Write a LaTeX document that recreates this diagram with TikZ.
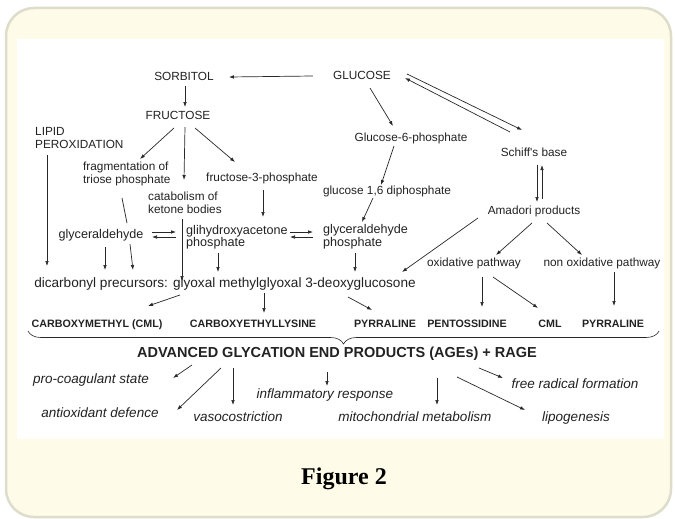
\documentclass[tikz,border=0pt]{standalone}
\usepackage{fontspec}
\setmainfont{Liberation Sans}
\newfontfamily\capfont{Liberation Serif}
\usepackage{tikz}
\usetikzlibrary{arrows.meta, calc, decorations.pathreplacing}

\definecolor{cream}{RGB}{254,251,232}
\definecolor{rim}{RGB}{222,220,203}
\definecolor{ink}{RGB}{34,34,34}
\definecolor{wire}{RGB}{40,40,40}

\tikzset{
  lbl/.style={inner sep=0pt, text=ink, font=\fontsize{11.8}{13}\selectfont, text height=8.9pt, text depth=2.4pt},
  lblm/.style={inner sep=0pt, text=ink, align=left, font=\fontsize{11.8}{13}\selectfont},
  lblb/.style={inner sep=0pt, text=ink, font=\fontsize{12.6}{12.5}\selectfont, text height=9.5pt, text depth=2.5pt},
  lblbm/.style={inner sep=0pt, text=ink, align=left, font=\fontsize{12.6}{12.5}\selectfont},
  prod/.style={inner sep=0pt, text=ink, font=\bfseries\fontsize{10.7}{12}\selectfont, text height=8pt, text depth=2.2pt},
  effect/.style={inner sep=0pt, text=ink, font=\itshape\fontsize{13.5}{15}\selectfont, text height=10.1pt, text depth=2.7pt},
  arr/.style={draw=wire, line width=0.7pt, -{Latex[length=5pt,width=3.6pt]}},
  ln/.style={draw=wire, line width=0.7pt},
}

\begin{document}
\begin{tikzpicture}[x=1pt,y=1pt,yscale=-1,xscale=1]
\useasboundingbox (0,0) rectangle (675,519);

%Shape: Frame
\draw[rim, fill=cream, line width=2.5pt, rounded corners=28pt] (6,8) rectangle (671,517);
\fill[white] (17,39) rectangle (664,439);

% Text Node
\draw (184,77) node[lbl] (sorb) {SORBITOL};
\draw (362,76) node[lbl] (glu) {GLUCOSE};
\draw (178,116) node[lbl] (fru) {FRUCTOSE};
\draw (35,137.5) node[lblm, anchor=west] (lipid) {LIPID\\PEROXIDATION};
\draw (83,173.5) node[lblm, anchor=west] (frag) {fragmentation of\\triose phosphate};
\draw (262,178) node[lbl] (f3p) {fructose-3-phosphate};
\draw (148,202.5) node[lblm, anchor=west] (cat) {catabolism of\\ketone bodies};
\draw (411,138) node[lbl] (g6p) {Glucose-6-phosphate};
\draw (387,191) node[lbl] (g16) {glucose 1,6 diphosphate};
\draw (534,153) node[lbl] (schiff) {Schiff\textquotesingle s base};
\draw (534,211) node[lbl] (amadori) {Amadori products};
\draw (101,235) node[lblb] (gly) {glyceraldehyde};
\draw (186,237) node[lblbm, anchor=west] (dhap) {glihydroxyacetone\\phosphate};
\draw (323,236.5) node[lblbm, anchor=west] (gap) {glyceraldehyde\\phosphate};
\draw (225,284) node[lbl, font=\fontsize{13.6}{15}\selectfont, text height=10.2pt, text depth=2.7pt] (dicarb) {dicarbonyl precursors: glyoxal methylglyoxal 3-deoxyglucosone};
\draw (474,263) node[lbl] (oxp) {oxidative pathway};
\draw (602,263) node[lbl] (noxp) {non oxidative pathway};

% Text Node: products
\draw (97,325) node[prod] (cml1) {CARBOXYMETHYL (CML)};
\draw (253,325) node[prod] (cel) {CARBOXYETHYLLYSINE};
\draw (385,325) node[prod] (pyr1) {PYRRALINE};
\draw (467,325) node[prod] (pento) {PENTOSSIDINE};
\draw (550,325) node[prod] (cml2) {CML};
\draw (613,325) node[prod] (pyr2) {PYRRALINE};
\draw (337,353) node[prod, font=\bfseries\fontsize{14.5}{16}\selectfont, text height=10.9pt, text depth=2.9pt] (ages) {ADVANCED GLYCATION END PRODUCTS (AGEs) + RAGE};

% Text Node: effects
\draw (91,380) node[effect] (proc) {pro-coagulant state};
\draw (100,414) node[effect] (antiox) {antioxidant defence};
\draw (238,418) node[effect] (vaso) {vasocostriction};
\draw (325,395) node[effect] (inflam) {inflammatory response};
\draw (415,418) node[effect] (mito) {mitochondrial metabolism};
\draw (576,418) node[effect] (lipo) {lipogenesis};
\draw (575,385) node[effect] (frf) {free radical formation};

% Text Node: caption
\draw (344,479) node[font=\capfont\bfseries\fontsize{24}{28}\selectfont, text=black] (fig) {Figure 2};

%Straight Lines: sorbitol branch
\draw[arr] ($(glu.west)+(-20,0)$) -- ($(sorb.east)+(15,0)$);
\draw[arr] ($(sorb)+(1,9)$) -- ($(fru)+(7,-9)$);
\draw[arr] ($(fru)+(-4,12)$) -- ($(frag.west)+(57,-14.5)$);
\draw[arr] ($(fru)+(7,11)$) -- ($(cat.west)+(36,-22.5)$);
\draw[arr] ($(fru)+(17,12)$) -- ($(f3p)+(-27,-16)$);
\draw[arr] ($(lipid.west)+(12,17.5)$) -- ($(dicarb)+(-178,-18)$);
\draw[ln] ($(frag.west)+(39,24.5)$) -- ($(gly)+(26,-12)$);
\draw[arr] ($(gly)+(29,9)$) -- ($(dicarb)+(-92,-14)$);
\draw[arr] ($(gly)+(4,12)$) -- ($(dicarb)+(-120,-14)$);
\draw[arr] ($(cat.west)+(34,16.5)$) -- ($(dicarb)+(-43,-3)$);
\draw[arr] ($(f3p)+(1,12)$) -- ($(dhap.west)+(77,-20)$);
\draw[arr] ($(dhap.west)+(32,16)$) -- ($(dicarb)+(-7,-12)$);
\draw[arr] ($(gap.west)+(32,16.5)$) -- ($(dicarb)+(130,-12)$);

%Straight Lines: equilibria
\draw[arr] ($(gly)+(51,-3)$) -- ($(dhap.west)+(-10,-5)$);
\draw[arr] ($(dhap.west)+(-10,0)$) -- ($(gly)+(51,2)$);
\draw[arr] ($(dhap.west)+(104,-5)$) -- ($(gap.west)+(-10,-4.5)$);
\draw[arr] ($(gap.west)+(-10,0.5)$) -- ($(dhap.west)+(104,0)$);

%Straight Lines: glucose branch
\draw[arr] ($(glu)+(8,12)$) -- ($(g6p)+(-18,-12)$);
\draw[arr] ($(g6p)+(-17,8)$) -- ($(g16)+(-6,-6)$);
\draw[arr] ($(g16)+(-14,7)$) -- ($(gap.west)+(39,-14.5)$);
\draw[arr] ($(glu)+(45,-2)$) -- ($(schiff)+(-12,-23)$);
\draw[arr] ($(schiff)+(-24,-21)$) -- ($(glu)+(43,2)$);
\draw[arr] ($(schiff)+(3,12)$) -- ($(amadori)+(3,-9)$);
\draw[arr] ($(amadori)+(8,-12)$) -- ($(schiff)+(8,12)$);
\draw[arr] ($(amadori)+(-56,7)$) -- ($(dicarb)+(177,-12)$);
\draw[arr] ($(amadori)+(-2,12)$) -- ($(oxp)+(22,-8)$);
\draw[arr] ($(amadori)+(13,12)$) -- ($(noxp)+(-20,-8)$);

%Straight Lines: to products
\draw[arr] ($(oxp)+(8,14)$) -- ($(pento)+(15,-18)$);
\draw[arr] ($(oxp)+(19,14)$) -- ($(cml2)+(-12,-17)$);
\draw[arr] ($(noxp)+(12,9)$) -- ($(pyr2)+(1,-19)$);
\draw[arr] ($(dicarb)+(-45,11)$) -- ($(cml1)+(51,-19)$);
\draw[arr] ($(dicarb)+(39,9)$) -- ($(cel)+(11,-12)$);
\draw[arr] ($(dicarb)+(123,13)$) -- ($(pyr1)+(-13,-15)$);

%Brace
\draw[wire, line width=0.6pt, decorate, decoration={brace, mirror, amplitude=13pt}] ($(cml1.west)+(-3.5,6)$) -- ($(pyr2.east)+(15,6)$);

%Straight Lines: effects
\draw[arr] ($(ages)+(-145,12)$) -- ($(proc)+(82,-2)$);
\draw[arr] ($(ages)+(-116,15)$) -- ($(antiox)+(77,-4)$);
\draw[arr] ($(ages)+(-104,15)$) -- ($(vaso)+(-5,-13)$);
\draw[arr] ($(ages)+(-10,19)$) -- ($(inflam)+(2,-9)$);
\draw[arr] ($(ages)+(100,25)$) -- ($(mito)+(22,-13)$);
\draw[arr] ($(ages)+(120,24)$) -- ($(lipo)+(-51,-8)$);
\draw[arr] ($(ages)+(142,15)$) -- ($(frf)+(-72,-7)$);

\end{tikzpicture}
\end{document}
